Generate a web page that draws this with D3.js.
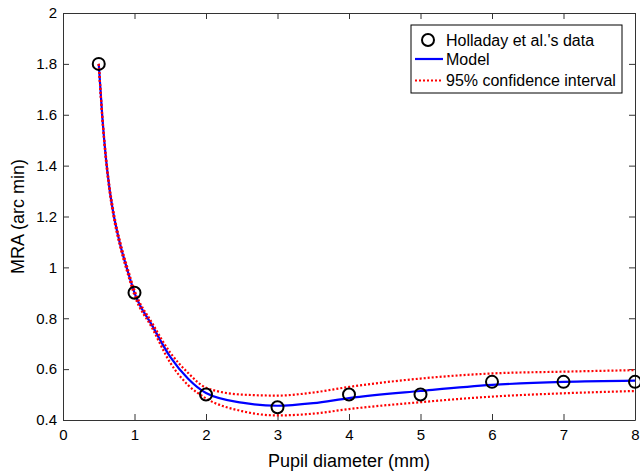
<!DOCTYPE html>
<html>
<head>
<meta charset="utf-8">
<script src="https://cdn.jsdelivr.net/npm/d3@7"></script>
<style>
body { margin: 0; background: #fff; }
text { font-family: "Liberation Sans", Arial, sans-serif; }
</style>
</head>
<body>
<div id="chart-area"></div>
<script>
const width = 640;
const height = 474;
const margin = {top: 13, right: 5, bottom: 54, left: 63};

// Holladay et al.'s measured data
const dataX = [0.5, 1, 2, 3, 4, 5, 6, 7, 8];
const dataY = [1.8, 0.9, 0.5, 0.45, 0.5, 0.5, 0.55, 0.55, 0.55];

// model curve and confidence bounds
const curveX = [0.5, 0.55, 0.6, 0.65, 0.7, 0.8, 0.9, 1, 1.25, 1.5, 1.75, 2, 2.5, 3, 3.5, 4, 5, 6, 7, 8];
const modelY = [1.8, 1.59, 1.43, 1.31, 1.22, 1.09, 0.99, 0.9, 0.77, 0.648, 0.562, 0.506, 0.468, 0.456, 0.466, 0.486, 0.514, 0.538, 0.55, 0.555];
const upperY = [1.8, 1.595, 1.44, 1.32, 1.23, 1.1, 1.0, 0.91, 0.78, 0.665, 0.585, 0.527, 0.5, 0.496, 0.508, 0.53, 0.563, 0.583, 0.59, 0.596];
const lowerY = [1.8, 1.585, 1.42, 1.3, 1.21, 1.08, 0.98, 0.89, 0.76, 0.625, 0.537, 0.485, 0.435, 0.418, 0.425, 0.443, 0.47, 0.492, 0.505, 0.514];

const xTicks = [0, 1, 2, 3, 4, 5, 6, 7, 8];
const yTicks = [0.4, 0.6, 0.8, 1, 1.2, 1.4, 1.6, 1.8, 2];
const legendLabels = ["Holladay et al.'s data", "Model", "95% confidence interval"];

var svg = d3.select("#chart-area").append("svg")
	.attr("width", width)
	.attr("height", height);

var x = d3.scaleLinear()
	.domain([0, 8])
	.range([margin.left, width - margin.right]);

var y = d3.scaleLinear()
	.domain([0.4, 2])
	.range([height - margin.bottom, margin.top]);

var fmt = d => String(+d.toFixed(1));
var axisColor = "#333";

function styleAxis(g) {
	g.selectAll("path, line").attr("stroke", axisColor);
	g.selectAll("text").attr("fill", "#000").style("font-size", "15px");
}

svg.append("g")
	.attr("transform", `translate(0,${height - margin.bottom})`)
	.call(d3.axisBottom(x).tickValues(xTicks).tickFormat(fmt).tickSizeInner(-6).tickSizeOuter(0).tickPadding(9))
	.call(styleAxis);

svg.append("g")
	.attr("transform", `translate(${margin.left},0)`)
	.call(d3.axisLeft(y).tickValues(yTicks).tickFormat(fmt).tickSizeInner(-6).tickSizeOuter(0).tickPadding(6))
	.call(styleAxis);

svg.append("g")
	.attr("transform", `translate(0,${margin.top})`)
	.call(d3.axisTop(x).tickValues(xTicks).tickFormat("").tickSizeInner(-6).tickSizeOuter(0))
	.call(styleAxis);

svg.append("g")
	.attr("transform", `translate(${width - margin.right},0)`)
	.call(d3.axisRight(y).tickValues(yTicks).tickFormat("").tickSizeInner(-6).tickSizeOuter(0))
	.call(styleAxis);

svg.selectAll(".domain").attr("fill", "none");

var line = d3.line()
	.x(d => x(d[0]))
	.y(d => y(d[1]))
	.curve(d3.curveMonotoneX);

svg.append("path")
	.datum(d3.zip(curveX, modelY))
	.attr("fill", "none")
	.attr("stroke", "#0000ff")
	.attr("stroke-width", 2.2)
	.attr("d", line);

[upperY, lowerY].forEach(vals => {
	svg.append("path")
		.datum(d3.zip(curveX, vals))
		.attr("fill", "none")
		.attr("stroke", "#ff0000")
		.attr("stroke-width", 2.2)
		.attr("stroke-dasharray", "2,2")
		.attr("d", line);
});

svg.selectAll(".dot")
	.data(d3.zip(dataX, dataY))
	.enter().append("circle")
	.attr("class", "dot")
	.attr("cx", d => x(d[0]))
	.attr("cy", d => y(d[1]))
	.attr("r", 6)
	.attr("fill", "none")
	.attr("stroke", "#000")
	.attr("stroke-width", 2);

// axis labels
svg.append("text")
	.attr("x", (x.range()[0] + x.range()[1]) / 2)
	.attr("y", 467)
	.attr("text-anchor", "middle")
	.style("font-size", "18px")
	.text("Pupil diameter (mm)");

svg.append("text")
	.attr("transform", `translate(24,${(y.range()[0] + y.range()[1]) / 2}) rotate(-90)`)
	.attr("text-anchor", "middle")
	.style("font-size", "18px")
	.text("MRA (arc min)");

// legend
var legend = svg.append("g").attr("transform", "translate(411,25)");

legend.append("rect")
	.attr("width", 211)
	.attr("height", 68)
	.attr("fill", "#fff")
	.attr("stroke", "#000")
	.attr("stroke-width", 1);

var rowY = [15, 34, 55.5];

legend.append("circle")
	.attr("cx", 17)
	.attr("cy", rowY[0])
	.attr("r", 6)
	.attr("fill", "none")
	.attr("stroke", "#000")
	.attr("stroke-width", 2);

legend.append("line")
	.attr("x1", 4).attr("x2", 32)
	.attr("y1", rowY[1]).attr("y2", rowY[1])
	.attr("stroke", "#0000ff")
	.attr("stroke-width", 2.2);

legend.append("line")
	.attr("x1", 4).attr("x2", 32)
	.attr("y1", rowY[2]).attr("y2", rowY[2])
	.attr("stroke", "#ff0000")
	.attr("stroke-width", 2.2)
	.attr("stroke-dasharray", "2,2");

legend.selectAll(".label")
	.data(legendLabels)
	.enter().append("text")
	.attr("class", "label")
	.attr("x", 35)
	.attr("y", (d, i) => rowY[i])
	.attr("dy", "0.35em")
	.style("font-size", "16px")
	.text(d => d);
</script>
</body>
</html>
